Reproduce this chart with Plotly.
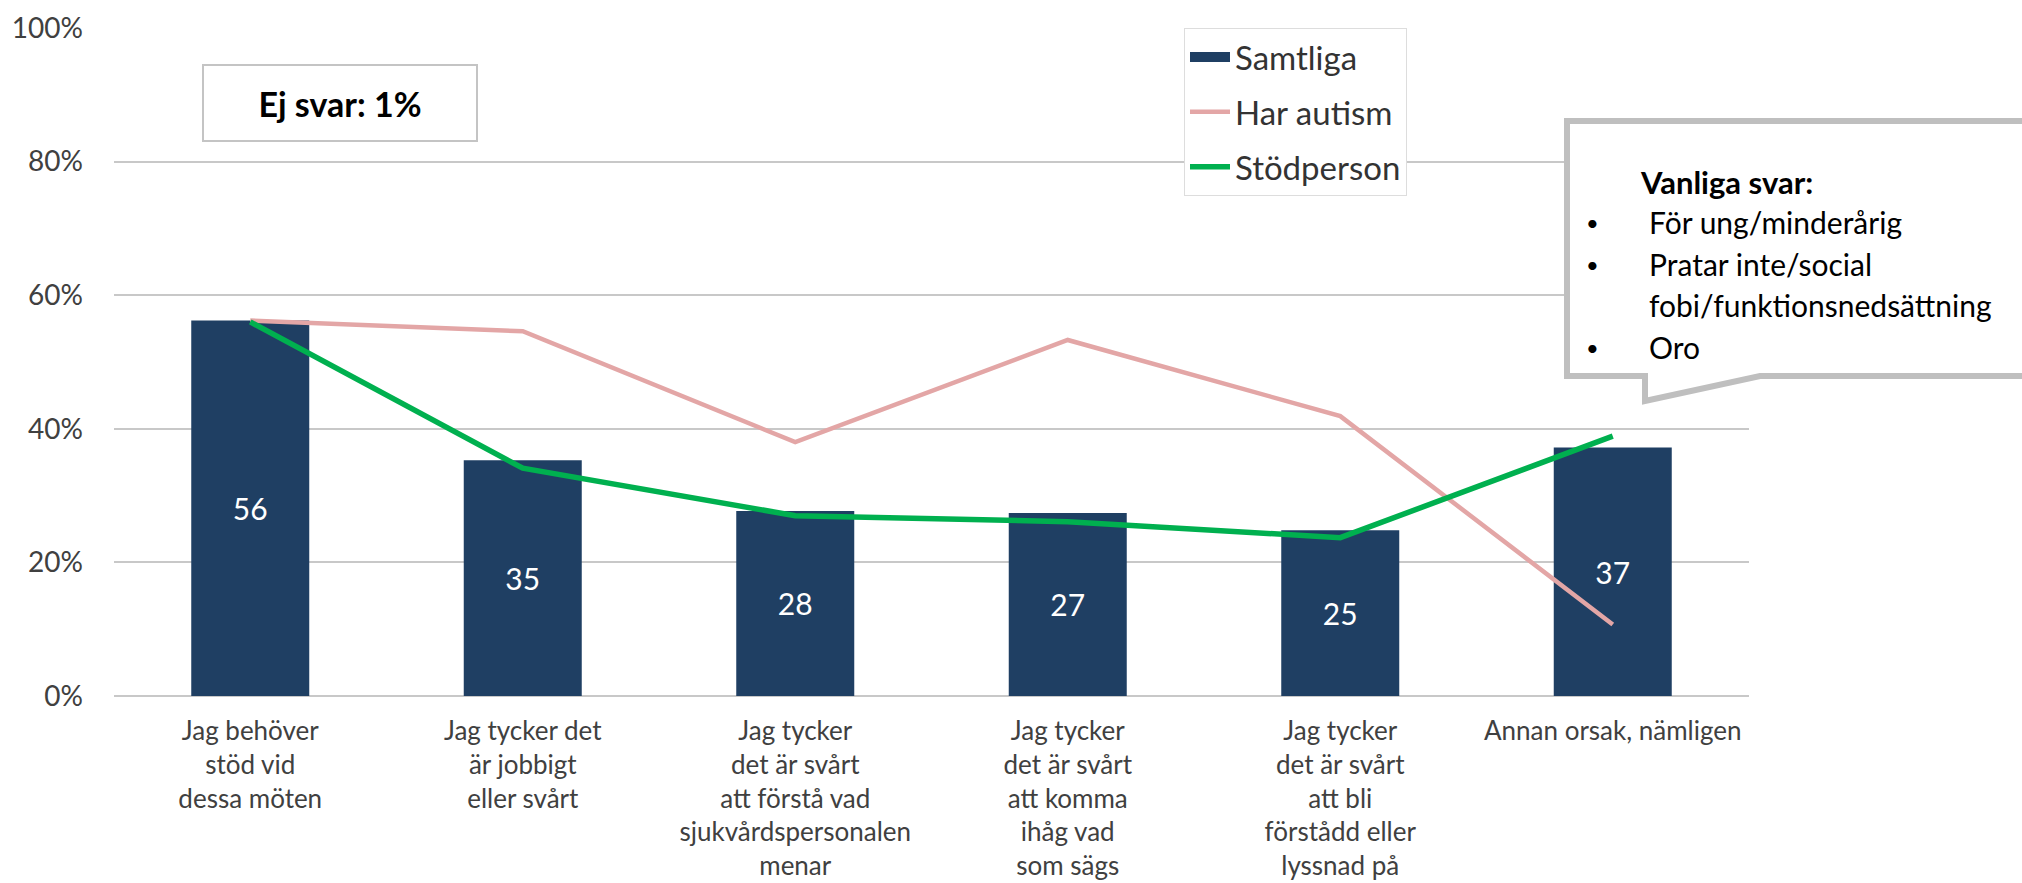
import plotly.graph_objects as go

categories = [
    "Jag behöver<br>stöd vid<br>dessa möten",
    "Jag tycker det<br>är jobbigt<br>eller svårt",
    "Jag tycker<br>det är svårt<br>att förstå vad<br>sjukvårdspersonalen<br>menar",
    "Jag tycker<br>det är svårt<br>att komma<br>ihåg vad<br>som sägs",
    "Jag tycker<br>det är svårt<br>att bli<br>förstådd eller<br>lyssnad på",
    "Annan orsak, nämligen",
]
samtliga = [56.2, 35.3, 27.7, 27.4, 24.8, 37.2]
har_autism = [56.2, 54.6, 38.0, 53.3, 41.9, 10.7]
stodperson = [56.0, 34.1, 27.0, 26.1, 23.7, 38.9]
y_ticks = [0, 20, 40, 60, 80, 100]
y_ticktext = [f"{v}%" for v in y_ticks]
callout_title = "Vanliga svar:"
callout_items = ["För ung/minderårig", "Pratar inte/social", "fobi/funktionsnedsättning", "Oro"]
ej_svar = "Ej svar: 1%"

W, H = 2022, 883
# plot area in screen pixels
SL, SR, ST, SB = 114, 1749, 28, 696
FONT = "Lato"
GRAY = "#404040"
BLUE = "#1F3F63"


def px(x):
    return (x - SL) / (SR - SL)


def py(y):
    return (SB - y) / (SB - ST)


fig = go.Figure()
fig.add_trace(go.Bar(
    x=categories, y=samtliga, name="Samtliga", showlegend=False,
    marker=dict(color=BLUE, line=dict(width=0)),
    text=[f"{round(v)}" for v in samtliga], textposition="inside",
    insidetextanchor="middle", textangle=0,
    textfont=dict(color="white", size=30, family=FONT),
))
# legend swatch for the bar series
fig.add_trace(go.Scatter(
    x=[None], y=[None], name="Samtliga", legendgroup="a",
    mode="lines", line=dict(color=BLUE, width=16),
))
fig.add_trace(go.Scatter(
    x=categories, y=har_autism, name="Har autism", legendgroup="b",
    mode="lines", line=dict(color="#E3A6A6", width=4.5),
))
fig.add_trace(go.Scatter(
    x=categories, y=stodperson, name="Stödperson", legendgroup="c",
    mode="lines", line=dict(color="#00B04F", width=5.5),
))

shapes = [
    dict(type="path", xref="paper", yref="paper", layer="above",
         path=(f"M {px(1567)},{py(121)} L {px(2060)},{py(121)} L {px(2060)},{py(376)} "
               f"L {px(1760)},{py(376)} L {px(1645)},{py(401)} L {px(1645)},{py(376)} "
               f"L {px(1567)},{py(376)} Z"),
         line=dict(color="#BFBFBF", width=6), fillcolor="white"),
]

annotations = [
    dict(xref="paper", yref="paper", x=px(340), y=py(103), xanchor="center", yanchor="middle",
         text=f"<b>{ej_svar}</b>", showarrow=False, width=270, height=72,
         bordercolor="#C4C4C4", borderwidth=2, bgcolor="white",
         font=dict(family=FONT, size=34, color="black")),
    dict(xref="paper", yref="paper", x=px(1638), y=py(182), xanchor="left", yanchor="middle",
         text=f"<b>{callout_title}</b>", showarrow=False,
         font=dict(family=FONT, size=31, color="black")),
]
line_y = [222, 264, 305, 347]
bullets = [True, True, False, True]
for item, yy, b in zip(callout_items, line_y, bullets):
    annotations.append(dict(xref="paper", yref="paper", x=px(1647), y=py(yy), xanchor="left",
                            yanchor="middle", text=item, showarrow=False,
                            font=dict(family=FONT, size=30, color="black")))
    if b:
        annotations.append(dict(xref="paper", yref="paper", x=px(1592), y=py(yy), xanchor="center",
                                yanchor="middle", text="•", showarrow=False,
                                font=dict(family=FONT, size=22, color="black")))

fig.update_layout(
    width=W, height=H,
    margin=dict(l=SL, r=W - SR, t=ST, b=H - SB, pad=0, autoexpand=False),
    paper_bgcolor="white", plot_bgcolor="white",
    bargap=0.567,
    font=dict(family=FONT, size=28, color=GRAY),
    showlegend=True,
    legend=dict(x=px(1184), y=1.0, xanchor="left", yanchor="top",
                bgcolor="white", bordercolor="#DDDDDD", borderwidth=1,
                font=dict(family=FONT, size=33, color="#333333"),
                tracegroupgap=9, traceorder="grouped", itemwidth=40),
    shapes=shapes,
    annotations=annotations,
)
fig.update_yaxes(range=[0, 100], tickvals=y_ticks, ticktext=y_ticktext,
                 showgrid=True, gridcolor="#C8C8C8", gridwidth=2,
                 zeroline=True, zerolinecolor="#C8C8C8", zerolinewidth=2,
                 showline=False, ticklabelstandoff=30, automargin=False,
                 tickfont=dict(family=FONT, size=28, color=GRAY))
fig.update_xaxes(showgrid=False, showline=False, ticks="", ticklabelstandoff=17,
                 tickangle=0, automargin=False,
                 tickfont=dict(family=FONT, size=26, color=GRAY))

fig.write_html(
    "out.html",
    config={"displayModeBar": False},
    post_script="document.body.style.margin='0';document.body.style.overflow='hidden';",
)
